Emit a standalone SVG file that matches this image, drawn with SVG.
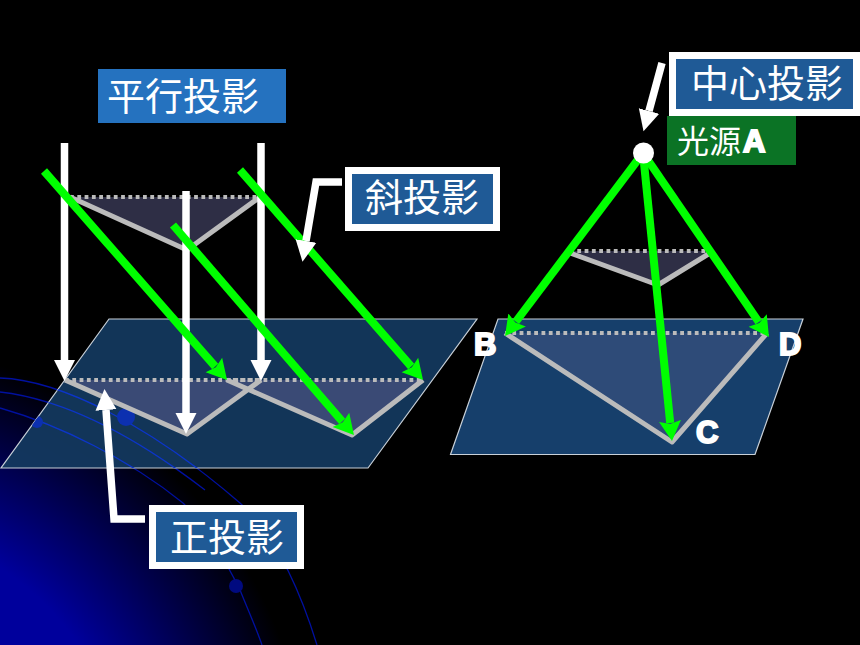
<svg xmlns="http://www.w3.org/2000/svg" width="860" height="645" viewBox="0 0 860 645">
<style>
.cjk{font-family:"Noto Sans CJK SC","Noto Sans CJK TC",sans-serif;fill:#fff;font-size:38px}
.let{font-family:"Liberation Sans",Arial,sans-serif;font-weight:bold;fill:#fff;stroke:#fff;stroke-width:2px;font-size:31px}
.plane{stroke:#c8d0d8;stroke-width:1.2}
.edge{fill:none;stroke:#bbb;stroke-width:5;stroke-linejoin:round}
.dot{fill:none;stroke:#bbb;stroke-width:4;stroke-dasharray:3.8 3.5}
.w{fill:none;stroke:#fff;stroke-width:7.5}
.wa{marker-end:url(#wh)}
.g{fill:none;stroke:#0f0;stroke-width:8;marker-end:url(#gh)}
.box{fill:#1f5a96;stroke:#fff;stroke-width:7}
.arc{fill:none;stroke:#0010a0;stroke-width:1.3}
.arc2{fill:none;stroke:#0c35c8;stroke-width:1.4}
</style>
<defs>
<radialGradient id="bg" gradientUnits="userSpaceOnUse" cx="-150" cy="800" r="460">
<stop offset="0.6" stop-color="#00009c"/><stop offset="1" stop-color="#000"/>
</radialGradient>
<clipPath id="inplane"><path d="M109 319H477L368 468H1z"/></clipPath>
<marker id="wh" markerUnits="userSpaceOnUse" markerWidth="22" markerHeight="24" refX="0" refY="11" orient="auto"><path d="M0 0.5L21 11L0 21.5z" fill="#fff"/></marker>
<marker id="gh" markerUnits="userSpaceOnUse" markerWidth="22" markerHeight="26" refX="2" refY="12" orient="auto"><path d="M0 1L20 12L0 23L3 12z" fill="#0f0"/></marker>
<g id="arcset">
<path d="M0 378C60 380 150 425 240 503C275 535 300 590 317 645"/>
<path d="M0 408C60 425 130 460 183 503C205 525 225 560 240 590C248 610 255 625 262 645"/>
<path d="M0 392C70 400 140 440 205 490"/>
</g>
</defs>
<rect width="860" height="645" fill="#000"/>
<rect width="330" height="290" y="355" fill="url(#bg)"/>
<g id="background-arcs">
<use href="#arcset" class="arc"/>
<circle cx="236" cy="586" r="7" fill="#000a80"/>
</g>
<g id="plane-left">
<path class="plane" d="M109 319H477L368 468H1z" fill="#143a60" fill-opacity=".92"/>
<g clip-path="url(#inplane)">
<use href="#arcset" class="arc2"/>
<circle cx="126" cy="417" r="9" fill="#0c30b0"/>
<circle cx="37" cy="422" r="6" fill="#0c30b0"/>
</g>
</g>
<g id="shadow-front">
<path d="M65 380H261L187 434z" fill="#3a4a75"/>
</g>
<g id="shadow-oblique">
<path d="M227 380H423L352 435z" fill="#3a4a75"/>
<path class="edge" d="M227 380L352 435L423 380"/>
<path class="dot" d="M227 380H423"/>
<path class="edge" d="M65 380L187 434L261 380"/>
<path class="dot" d="M65 380H261"/>
</g>
<g id="triangle-parallel">
<path d="M70 197H260L187 250z" fill="#2e2e45"/>
<path class="edge" d="M70 197L187 250L260 197"/>
<path class="dot" d="M70 197H260"/>
</g>
<g id="plane-right">
<path class="plane" d="M498 319H803L755 454.5H450.5z" fill="#163f6b"/>
</g>
<g id="shadow-central">
<path d="M505 333H767L672 442z" fill="#2e4b78"/>
<path class="edge" d="M505 333L672 442L767 333"/>
<path class="dot" d="M505 333H767"/>
</g>
<g id="triangle-central">
<path d="M570 251H710L658 285z" fill="#2e2e45"/>
<path class="edge" d="M570 253L658 285L710 253"/>
<path class="dot" d="M570 251H710"/>
</g>
<g id="connectors">
<path class="w wa" d="M64.5 143V360"/>
<path class="w wa" d="M186 191V413"/>
<path class="w wa" d="M261 143V360"/>
<path class="g" d="M44 171L215.2 366.5"/>
<path class="g" d="M173 225L342.2 421.4"/>
<path class="g" d="M240 170L411.2 366.5"/>
<path class="g" d="M643 153L515.9 321.6"/>
<path class="g" d="M643 153L670.2 423"/>
<path class="g" d="M643 153L758.8 322.1"/>
<path class="w wa" d="M342 182H316L306 241"/>
<path class="w wa" d="M145 519H114L106 410"/>
<path class="w wa" d="M662 63L649 111"/>
</g>
<g id="light-source">
<circle cx="643.5" cy="153" r="10.5" fill="#fff"/>
</g>
<g id="label-parallel">
<rect x="98" y="69" width="188" height="54" fill="#2572bf"/>
<text class="cjk" x="107" y="110">平行投影</text>
</g>
<g id="label-oblique">
<rect class="box" x="348.500" y="170.500" width="148" height="57"/>
<text class="cjk" x="365" y="211">斜投影</text>
</g>
<g id="label-front">
<rect class="box" x="152.500" y="508.500" width="148" height="57"/>
<text class="cjk" x="170" y="551">正投影</text>
</g>
<g id="label-central">
<rect class="box" x="672.500" y="55.500" width="184" height="57"/>
<text class="cjk" x="691" y="97">中心投影</text>
</g>
<g id="label-source">
<rect x="667" y="116" width="129" height="49" fill="#0b7325"/>
<text class="cjk" x="677" y="153" style="font-size:32px">光源</text>
<text class="let" x="743" y="152">A</text>
</g>
<g id="label-b"><text class="let" x="474" y="355">B</text></g>
<g id="label-c"><text class="let" x="696" y="443">C</text></g>
<g id="label-d"><text class="let" x="779" y="355">D</text></g>
</svg>
